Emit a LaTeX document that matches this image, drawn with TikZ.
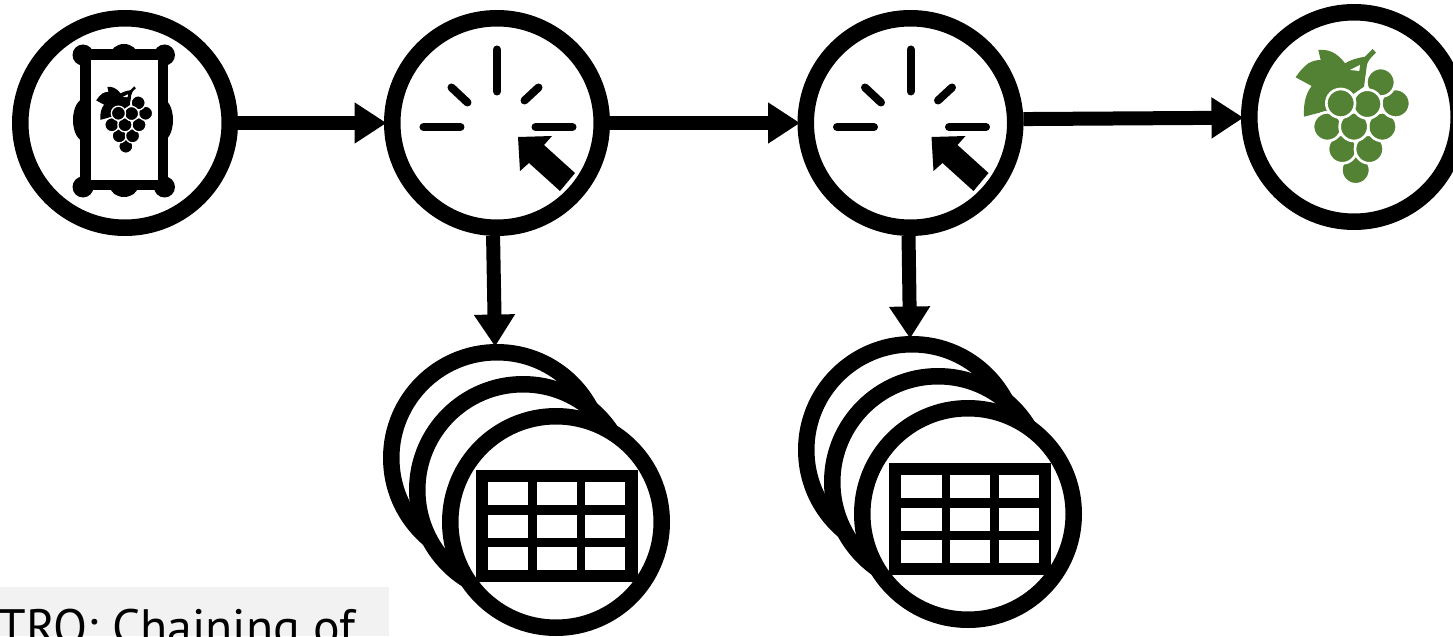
\documentclass[tikz,border=0pt]{standalone}
\usepackage{fontspec}
\setmainfont{PT Sans}
\usetikzlibrary{arrows.meta}
\definecolor{grapegreen}{HTML}{548235}
\definecolor{panelgrey}{HTML}{F2F2F2}
\tikzset{
  ring/.style={draw, circle, line width=0.33cm, minimum size=4.19cm, fill=white, inner sep=0pt},
  stackring/.style={ring, minimum size=4.23cm},
  flow/.style={line width=0.28cm, -{Triangle[length=0.64cm, width=0.78cm]}, shorten >=-0.05cm},
  ray/.style={line width=0.16cm, line cap=round},
  pics/clickmark/.style={code={
    \begin{scope}[x=0.02cm, y=0.02cm]
      \draw[ray] (0, 31.5) -- (0, 73.5);
      \draw[ray] (-73.5, -4) -- (-36.5, -4);
      \draw[ray] (38.5, -4) -- (75.5, -4);
      \draw[ray] (-45.5, 35.5) -- (-29.5, 20.5);
      \draw[ray] (41.5, 35.5) -- (27.5, 22.5);
      \fill (21, -14) -- (55, -13) -- (47, -22) -- (78, -50) -- (63, -68) -- (32, -40) -- (23, -48) -- cycle;
    \end{scope}
  }},
  pics/datatable/.style={code={
    \begin{scope}[x=0.02cm, y=0.02cm]
      \fill (-81, -56) rectangle (81, 56);
      \foreach \cx in {-48.5, 0, 48.5}
        \foreach \cy in {-32, 0, 32}
          \fill[white] (\cx-20, \cy-11.5) rectangle (\cx+20, \cy+11.5);
    \end{scope}
  }},
  pics/grapes/.style 2 args={code={
    \begin{scope}[x=#2cm, y=#2cm]
      \fill[#1] (-150, 1) .. controls (-152, 40) and (-145, 70) .. (-127, 93) -- (-175, 119)
        .. controls (-165, 135) and (-152, 150) .. (-137, 161) .. controls (-125, 168) and (-112, 171) .. (-100, 171)
        -- (-107, 201) .. controls (-80, 203) and (-55, 198) .. (-27, 161)
        .. controls (-10, 172) and (15, 178) .. (33, 181) -- (56, 204) -- (66, 193)
        .. controls (50, 178) and (38, 165) .. (38, 151) -- (30, 91) -- (-72, 21) -- cycle;
      \fill[white] (-12, 141) -- (18, 156) -- (16, 138) -- cycle;
      \foreach \bx/\by in {5/-159, -35/-96, 46/-96, -80/-29, 85/-29, 0/-29, 125/41, 80/104, 40/39, -40/41}
        \draw[fill=#1, draw=white, line width=#2*8cm] (\bx, \by) circle (43);
    \end{scope}
  }}
}
\begin{document}
\begin{tikzpicture}

\useasboundingbox (0, 0) rectangle (29.06, 12.72);
\clip (0, 0) rectangle (29.06, 12.72);

% text panel, bottom left
\fill[panelgrey] (0, 0) rectangle (7.78, 0.98);
\node[anchor=base west, inner sep=0pt] at (-0.03, -0.16) (caption) {\fontsize{28.3pt}{34pt}\selectfont TRO: Chaining of};

% top row
\node[ring] at ( 2.50, 10.26) (painting) {};
\node[ring] at ( 9.94, 10.26) (clicka) {};
\node[ring] at (18.21, 10.26) (clickb) {};
\node[ring] at (27.08, 10.38) (grape) {};

% first stack of tables
\node[stackring] at ( 9.94, 3.56) (tablea1) {};
\node[stackring] at (10.46, 2.92) (tablea2) {};
\node[stackring] at (11.12, 2.28) (tablea3) {};

% second stack of tables
\node[stackring] at (18.24, 3.72) (tableb1) {};
\node[stackring] at (18.76, 3.08) (tableb2) {};
\node[stackring] at (19.36, 2.44) (tableb3) {};

% framed picture
\fill (1.60, 8.92) rectangle (3.36, 11.74);
\foreach \fx in {1.66, 3.29}
  \foreach \fy in {8.98, 11.62}
    \fill (\fx, \fy) circle (0.21);
\fill (2.48, 11.60) ellipse (0.28 and 0.24);
\fill (2.48, 9.00) ellipse (0.28 and 0.22);
\fill (1.68, 10.32) ellipse (0.22 and 0.42);
\fill (3.24, 10.32) ellipse (0.22 and 0.42);
\fill[white] (1.82, 9.12) rectangle (3.16, 11.52);
\pic at (2.50, 10.32) {grapes={black}{0.0033}};

% icons
\pic at (clicka) {clickmark};
\pic at (clickb) {clickmark};
\pic at (grape) {grapes={grapegreen}{0.00667}};
\pic at (11.135, 2.20) {datatable};
\pic at (19.40, 2.34) {datatable};

% connections
\draw[flow] (painting) -- (clicka);
\draw[flow] (clicka) -- (clickb);
\draw[flow] (clickb.2) -- (grape);
\draw[flow] (clicka.-92) -- (tablea1.91);
\draw[flow] (clickb.-91) -- (tableb1.91);

\end{tikzpicture}
\end{document}
